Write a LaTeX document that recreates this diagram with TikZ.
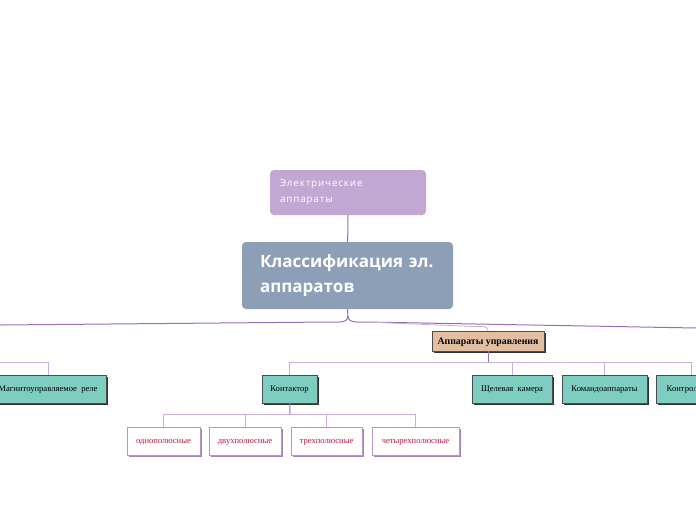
\documentclass[tikz,border=0pt]{standalone}
\usepackage{fontspec}
\setmainfont{Liberation Serif}
\newfontfamily\sansf{Open Sans}
\newfontfamily\sansfs[LetterSpace=9]{Open Sans}
\usetikzlibrary{shadows}
\definecolor{topc}{HTML}{C3A7D3}
\definecolor{mainc}{HTML}{8C9FB6}
\definecolor{tanc}{HTML}{E3BFA2}
\definecolor{tealc}{HTML}{7ECDC1}
\definecolor{linec}{HTML}{9A6BB8}
\definecolor{lightc}{HTML}{CBAEDB}
\definecolor{crims}{HTML}{C8143C}
\definecolor{wbord}{HTML}{B694CB}
\definecolor{wshad}{HTML}{A383BA}
\tikzset{
  topbox/.style={fill=topc, rounded corners=4pt, minimum width=156pt, minimum height=45pt, inner sep=0pt,
    text width=136pt, align=left, text=white, font=\sansfs\fontsize{9.8}{16}\selectfont},
  mainbox/.style={fill=mainc, rounded corners=4pt, minimum width=211pt, minimum height=67pt, inner sep=0pt,
    text width=175pt, align=left, text=white, font=\sansf\bfseries\fontsize{17}{25}\selectfont},
  tanbox/.style={fill=tanc, draw=black!70, line width=0.4pt, minimum height=20pt, inner sep=0pt,
    font=\bfseries\fontsize{9.8}{11}\selectfont, text depth=0pt,
    drop shadow={shadow xshift=2pt, shadow yshift=-2pt, fill=black!80, opacity=1}},
  tealbox/.style={fill=tealc, draw=black!70, line width=0.4pt, minimum height=28pt, inner sep=0pt,
    font=\fontsize{8.6}{10}\selectfont, text depth=0pt,
    drop shadow={shadow xshift=2pt, shadow yshift=-2pt, fill=black!80, opacity=1}},
  wbox/.style={fill=white, draw=wbord, line width=0.5pt, minimum height=28pt, inner sep=0pt,
    text=crims, font=\fontsize{8.6}{10}\selectfont, text depth=0pt,
    drop shadow={shadow xshift=2pt, shadow yshift=-2pt, fill=wshad, opacity=1}},
  mline/.style={draw=linec, line width=1pt},
  lline/.style={draw=lightc, line width=0.8pt},
}
\begin{document}
\begin{tikzpicture}[x=1pt,y=-1pt]
\useasboundingbox (0,0) rectangle (696,520);
\clip (0,0) rectangle (696,520);
% nodes
\node[topbox] (el) at (348,192.5) {\raisebox{-2pt}{Электрические}\\\raisebox{-2pt}{аппараты}};
\node[mainbox] (main) at (347.5,275.5) {Классификация эл.\\аппаратов};
\node[tanbox, minimum width=112pt] (appu) at (488,341) {Аппараты управления};
\node[tealbox, minimum width=116pt] (mag) at (48,389) {Магнитоуправляемое\ \ реле};
\node[tealbox, minimum width=55pt] (kont) at (289.5,389) {Контактор};
\node[tealbox, minimum width=80pt] (shch) at (512,389) {Щелевая\ \ камера};
\node[tealbox, minimum width=85pt] (koma) at (604.5,389) {Командоаппараты};
\node[tealbox, minimum width=70pt, anchor=west] (kontr) at (656,389) {Контроллеры};
\node[wbox, minimum width=73pt] (c1) at (163.5,441) {однополюсные};
\node[wbox, minimum width=72pt] (c2) at (245,441) {двухполюсные};
\node[wbox, minimum width=71pt] (c3) at (326.5,441) {трехполюсные};
\node[wbox, minimum width=87pt] (c4) at (415.5,441) {четырехполюсные};
% coordinates
\coordinate (j) at (348,316);
\coordinate (jl) at (330,322);
\coordinate (le) at (0,325);
\coordinate (jr) at (366,322);
\coordinate (re) at (696,328);
\coordinate (ja) at (474,326.5);
\coordinate (ab) at (488,362);
\coordinate (ml) at (0,362);
\coordinate (kb) at (290,414);
% connectors
\draw[mline] (el) -- (main);
\draw[mline] (main.south) -- (j);
\draw[mline] (j) to[out=-90,in=0] (jl) -- (le);
\draw[mline] (j) to[out=-90,in=180] (jr) -- (re);
\draw[lline] (jr) -- (ja) to[out=0,in=90] (appu.north);
\draw[mline] (appu) -- (ab);
\draw[lline] (ab) -| (kont.north);
\draw[lline] (ab) -| (shch.north);
\draw[lline] (ab) -| (koma.north);
\draw[lline] (ab) -| (kontr.north);
\draw[lline] (ml) -| (mag.north);
\draw[mline] (kont) -- (kb);
\draw[lline] (kb) -| (c1.north);
\draw[lline] (kb) -| (c2.north);
\draw[lline] (kb) -| (c3.north);
\draw[lline] (kb) -| (c4.north);
\end{tikzpicture}
\end{document}
